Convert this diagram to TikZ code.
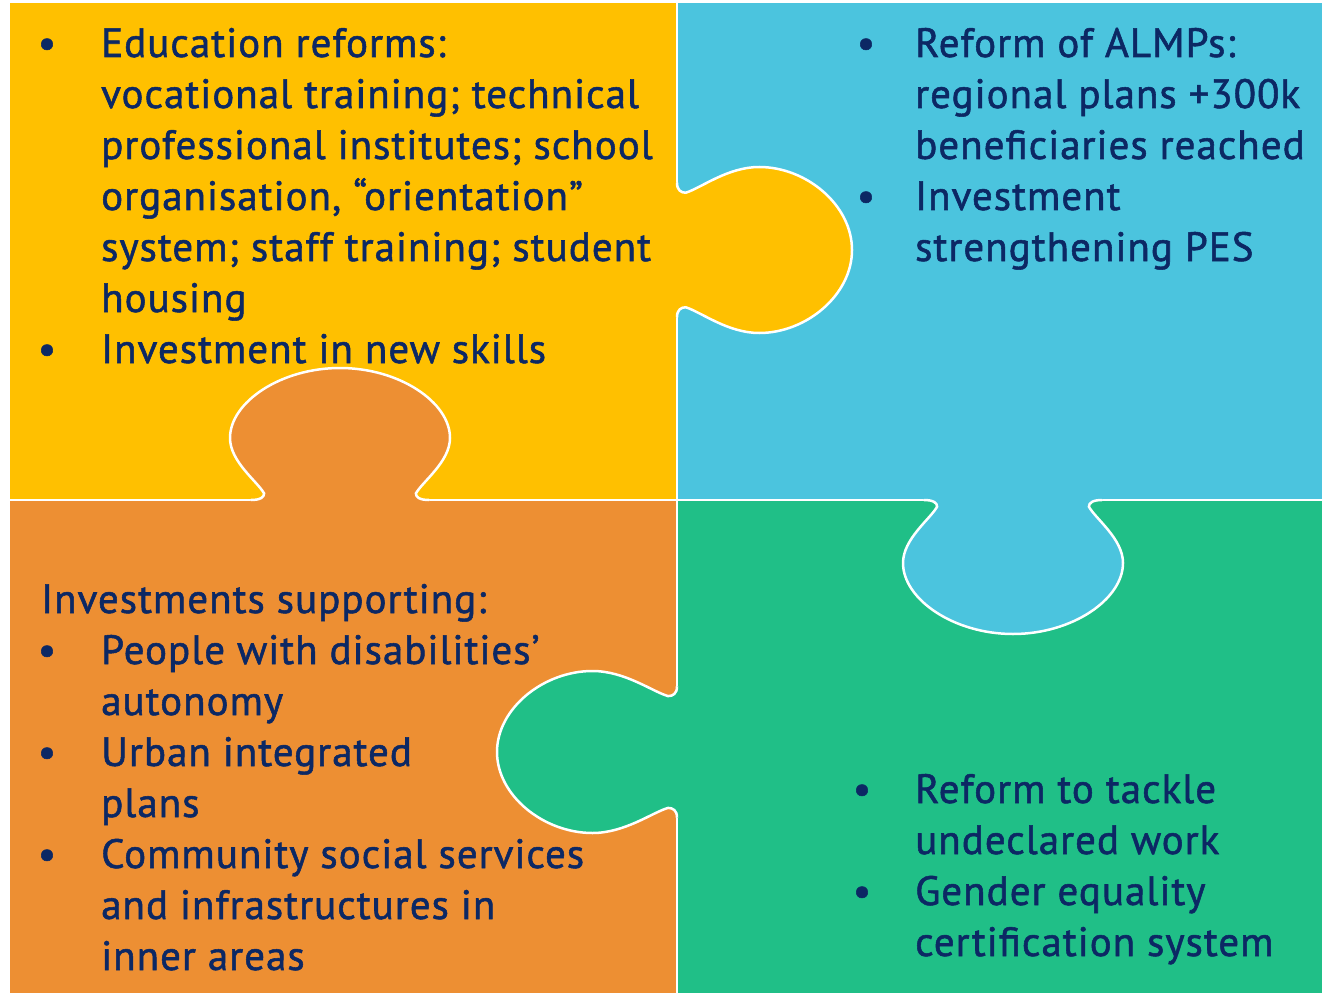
\documentclass[tikz,border=0pt]{standalone}
\usepackage{fontspec}
\newfontfamily\ptsans[FakeBold=1.3,LetterSpace=2.5]{PT Sans}
\definecolor{pzyellow}{RGB}{255,192,0}
\definecolor{pzblue}{RGB}{75,196,222}
\definecolor{pzorange}{RGB}{237,143,51}
\definecolor{pzgreen}{RGB}{32,191,135}
\definecolor{navy}{RGB}{12,40,100}
\newcommand\knobfill{(-0.02,-0.81) -- (0,-0.81) .. controls (0,-0.72) and (0.023,-0.69) .. (0.05,-0.69)
 .. controls (0.14,-0.75) and (0.29,-1) .. (0.47,-1)
 .. controls (0.74,-1) and (1,-0.54) .. (1,0)
 .. controls (1,0.54) and (0.74,1) .. (0.47,1)
 .. controls (0.29,1) and (0.14,0.75) .. (0.05,0.69)
 .. controls (0.023,0.69) and (0,0.72) .. (0,0.81) -- (-0.02,0.81) -- cycle}
\newcommand\knobline{(0,-0.81) .. controls (0,-0.72) and (0.023,-0.69) .. (0.05,-0.69)
 .. controls (0.14,-0.75) and (0.29,-1) .. (0.47,-1)
 .. controls (0.74,-1) and (1,-0.54) .. (1,0)
 .. controls (1,0.54) and (0.74,1) .. (0.47,1)
 .. controls (0.29,1) and (0.14,0.75) .. (0.05,0.69)
 .. controls (0.023,0.69) and (0,0.72) .. (0,0.81)}
\tikzset{
  txt/.style={anchor=base west, inner sep=0pt, text=navy, font=\ptsans\fontsize{41}{48}\selectfont},
  bul/.style={anchor=base, inner sep=0pt, text=navy, font=\ptsans\fontsize{41}{48}\selectfont},
  seam/.style={draw=white, line width=2.5pt},
}
\begin{document}
\begin{tikzpicture}[x=1pt,y=-1pt]
\useasboundingbox (0,0) rectangle (1322,995);
\fill[white] (0,0) rectangle (1322,995);
\fill[pzyellow] (10,3) rectangle (677,500);
\fill[pzblue] (677,3) rectangle (1322,500);
\fill[pzorange] (10,500) rectangle (677,993);
\fill[pzgreen] (677,500) rectangle (1322,993);
\coordinate (vt) at (677,3);
\coordinate (vb) at (677,993);
\coordinate (hl) at (10,500);
\coordinate (hr) at (1322,500);
\draw[seam] (vt) -- (vb);
\draw[seam] (hl) -- (hr);
% yellow knob into blue
\begin{scope}[shift={(677,250)}, x={(175pt,0pt)}, y={(0pt,-83pt)}]
  \fill[pzyellow] \knobfill;
  \draw[seam] \knobline;
\end{scope}
% orange knob into yellow
\begin{scope}[shift={(340,500)}, x={(0pt,132pt)}, y={(110pt,0pt)}]
  \fill[pzorange] \knobfill;
  \draw[seam] \knobline;
\end{scope}
% blue knob into green
\begin{scope}[shift={(1013,500)}, x={(0pt,-134pt)}, y={(110pt,0pt)}]
  \fill[pzblue] \knobfill;
  \draw[seam] \knobline;
\end{scope}
% green knob into orange
\begin{scope}[shift={(677,752)}, x={(-180pt,0pt)}, y={(0pt,-81pt)}]
  \fill[pzgreen] \knobfill;
  \draw[seam] \knobline;
\end{scope}
% top-left text
\node[bul] (b1) at (47,57) {•};
\node[txt] (t1) at (101,57) {Education reforms:};
\node[txt] (t2) at (101,108) {vocational training; technical};
\node[txt] (t3) at (101,159) {professional institutes; school};
\node[txt] (t4) at (101,210) {organisation, “orientation”};
\node[txt] (t5) at (101,261) {system; staff training; student};
\node[txt] (t6) at (101,312) {housing};
\node[bul] (b2) at (47,363) {•};
\node[txt] (t7) at (101,363) {Investment in new skills};
% top-right text
\node[bul] (b3) at (866,57) {•};
\node[txt] (r1) at (915,57) {Reform of ALMPs:};
\node[txt] (r2) at (915,108) {regional plans +300k};
\node[txt] (r3) at (915,159) {beneficiaries reached};
\node[bul] (b4) at (866,210) {•};
\node[txt] (r4) at (915,210) {Investment};
\node[txt] (r5) at (915,261) {strengthening PES};
% bottom-left text
\node[txt] (o0) at (41,613) {Investments supporting:};
\node[bul] (b5) at (47,664) {•};
\node[txt] (o1) at (101,664) {People with disabilities’};
\node[txt] (o2) at (101,715) {autonomy};
\node[bul] (b6) at (47,766) {•};
\node[txt] (o3) at (101,766) {Urban integrated};
\node[txt] (o4) at (101,817) {plans};
\node[bul] (b7) at (47,868) {•};
\node[txt] (o5) at (101,868) {Community social services};
\node[txt] (o6) at (101,919) {and infrastructures in};
\node[txt] (o7) at (101,970) {inner areas};
% bottom-right text
\node[bul] (b8) at (862,803) {•};
\node[txt] (g1) at (915,803) {Reform to tackle};
\node[txt] (g2) at (915,854) {undeclared work};
\node[bul] (b9) at (862,905) {•};
\node[txt] (g3) at (915,905) {Gender equality};
\node[txt] (g4) at (915,956) {certification system};
\end{tikzpicture}
\end{document}
